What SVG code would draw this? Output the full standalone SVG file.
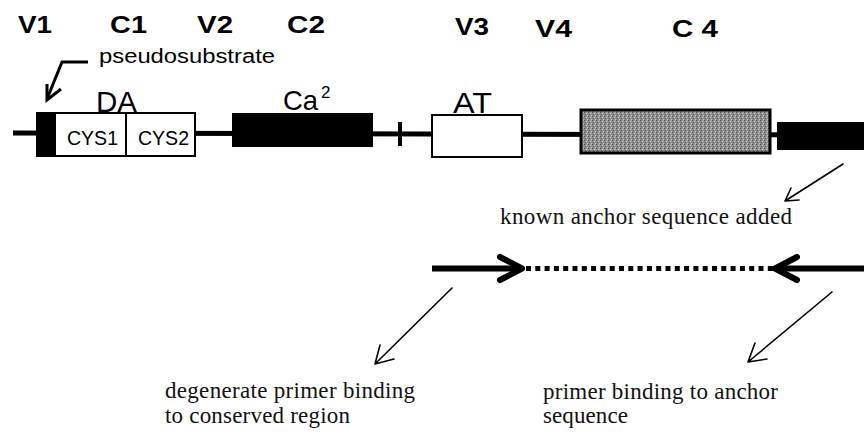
<svg xmlns="http://www.w3.org/2000/svg" width="864" height="435" viewBox="0 0 864 435">
  <style>
    .hdr { font-family: "Liberation Sans", Arial, sans-serif; font-weight: bold; font-size: 23px; fill: #000; }
    .lbl { font-family: "Liberation Sans", Arial, sans-serif; fill: #000; }
    .ser { font-family: "Liberation Serif", "Times New Roman", serif; font-size: 23px; fill: #111; }
    .box { stroke: #000; stroke-width: 2; }
    .thin { fill: none; stroke: #000; stroke-width: 1.6; stroke-linecap: round; stroke-linejoin: round; }
    .thick { fill: none; stroke: #000; stroke-width: 6; stroke-linecap: round; stroke-linejoin: round; }
  </style>
  <defs>
    <pattern id="speckle" width="4" height="4" patternUnits="userSpaceOnUse">
      <rect width="4" height="4" fill="#8c8c8c"/>
      <rect x="0" y="0" width="1" height="1" fill="#4a4a4a"/>
      <rect x="2" y="1" width="1" height="1" fill="#cfcfcf"/>
      <rect x="1" y="2" width="1" height="1" fill="#5e5e5e"/>
      <rect x="3" y="3" width="1" height="1" fill="#c4c4c4"/>
      <rect x="3" y="0" width="1" height="1" fill="#adadad"/>
    </pattern>
  </defs>

  <rect width="864" height="435" fill="#fff"/>

  <!-- region headers -->
  <g id="headers">
    <text class="hdr" x="18" y="33" textLength="34" lengthAdjust="spacingAndGlyphs">V1</text>
    <text class="hdr" x="110" y="33" textLength="37" lengthAdjust="spacingAndGlyphs">C1</text>
    <text class="hdr" x="197" y="33" textLength="36" lengthAdjust="spacingAndGlyphs">V2</text>
    <text class="hdr" x="287" y="33" textLength="38" lengthAdjust="spacingAndGlyphs">C2</text>
    <text class="hdr" x="455" y="35" textLength="34" lengthAdjust="spacingAndGlyphs">V3</text>
    <text class="hdr" x="535" y="37" textLength="37" lengthAdjust="spacingAndGlyphs">V4</text>
    <text class="hdr" x="672" y="37" textLength="46" lengthAdjust="spacingAndGlyphs">C 4</text>
  </g>

  <!-- connectors: backbone and pointers -->
  <g id="connectors">
    <line x1="13" y1="133" x2="864" y2="135" stroke="#000" stroke-width="5"/>
    <!-- pseudosubstrate pointer -->
    <path d="M88 62 H62 L47 99" fill="none" stroke="#000" stroke-width="3" stroke-linejoin="miter"/>
    <path d="M47 84 V100 L61 89" fill="none" stroke="#000" stroke-width="3"/>
    <!-- known anchor pointer -->
    <path class="thin" d="M843 164 L785 201 M799 200 L785 201 L791 188"/>
    <!-- degenerate primer pointer -->
    <path class="thin" d="M452 288 L375 364 M394 359 L375 364 L380 345"/>
    <!-- anchor primer pointer -->
    <path class="thin" d="M832 292 L748 362 M767 359 L748 362 L755 343"/>
  </g>

  <g id="pseudosubstrate-label">
    <text class="lbl" x="99" y="63" font-size="20" textLength="176" lengthAdjust="spacingAndGlyphs">pseudosubstrate</text>
  </g>

  <g id="DA">
    <rect x="37" y="113" width="158" height="43" fill="#fff" class="box"/>
    <rect x="37" y="113" width="19" height="43" fill="#000"/>
    <line x1="126" y1="113" x2="126" y2="156" stroke="#000" stroke-width="2"/>
    <text class="lbl" x="96" y="112" font-size="30" textLength="41" lengthAdjust="spacingAndGlyphs">DA</text>
    <text class="lbl" x="67" y="145" font-size="20" textLength="51" lengthAdjust="spacingAndGlyphs">CYS1</text>
    <text class="lbl" x="138" y="145" font-size="20" textLength="51" lengthAdjust="spacingAndGlyphs">CYS2</text>
  </g>

  <g id="Ca2">
    <rect x="232" y="113" width="141" height="34" fill="#000"/>
    <text class="lbl" x="283" y="110" font-size="28" textLength="35" lengthAdjust="spacingAndGlyphs">Ca</text>
    <text class="lbl" x="321" y="98" font-size="17">2</text>
  </g>

  <g id="tick">
    <rect x="398" y="122" width="4" height="24" fill="#000"/>
  </g>

  <g id="AT">
    <rect x="432" y="115" width="90" height="42" fill="#fff" class="box"/>
    <text class="lbl" x="453" y="113" font-size="30" textLength="39" lengthAdjust="spacingAndGlyphs">AT</text>
  </g>

  <g id="C4">
    <rect x="581" y="110" width="189" height="43" fill="url(#speckle)" stroke="#000" stroke-width="3"/>
  </g>

  <g id="anchor-block">
    <rect x="777" y="122" width="87" height="28" fill="#000"/>
  </g>

  <g id="anchor-label">
    <text class="ser" x="500" y="224" textLength="292" lengthAdjust="spacing">known anchor sequence added</text>
  </g>

  <g id="primers">
    <line x1="432" y1="268.5" x2="520" y2="268.5" stroke="#000" stroke-width="6"/>
    <path class="thick" d="M500 257 L522 268.5 L500 280"/>
    <line x1="526" y1="268.5" x2="775" y2="268.5" stroke="#000" stroke-width="5" stroke-dasharray="5 4.3"/>
    <line x1="778" y1="268.5" x2="864" y2="268.5" stroke="#000" stroke-width="6"/>
    <path class="thick" d="M797 257 L775 268.5 L797 280"/>
  </g>

  <g id="degenerate-label">
    <text class="ser" x="165" y="398" textLength="250" lengthAdjust="spacing">degenerate primer binding</text>
    <text class="ser" x="165" y="423" textLength="185" lengthAdjust="spacing">to conserved region</text>
  </g>

  <g id="anchor-primer-label">
    <text class="ser" x="543" y="399" textLength="235" lengthAdjust="spacing">primer binding to anchor</text>
    <text class="ser" x="543" y="423" textLength="85" lengthAdjust="spacing">sequence</text>
  </g>
</svg>
